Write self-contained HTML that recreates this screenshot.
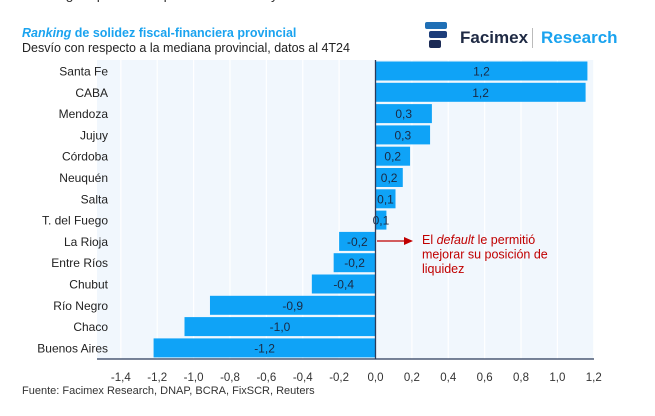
<!DOCTYPE html>
<html><head><meta charset="utf-8"><style>
body{margin:0;width:655px;height:416px;background:#fff;overflow:hidden;font-family:"Liberation Sans",sans-serif;position:relative}
.t{position:absolute;white-space:nowrap}
</style></head><body>
<div class="t" style="left:22px;top:-14px;font-size:14px;color:#333">Ranking de provincias por solidez fiscal y financiera</div>
<div class="t" style="left:22px;top:26px;font-size:12.5px;font-weight:bold;color:#1aa3ef"><i>Ranking</i> de solidez fiscal-financiera provincial</div>
<div class="t" style="left:22px;top:41px;font-size:12.5px;color:#222">Desvío con respecto a la mediana provincial, datos al 4T24</div>
<svg style="position:absolute;left:425px;top:22px" width="30" height="30" viewBox="0 0 30 30">
<rect x="0" y="0" width="22" height="7" rx="2" fill="#1f6fb5"/><rect x="4" y="9" width="18" height="7" rx="2" fill="#1d3d7a"/><rect x="4" y="18" width="12" height="8" rx="2" fill="#1b2a55"/></svg>
<div class="t" style="left:460px;top:28px;font-size:17px;font-weight:bold;color:#1f2a44">Facimex</div>
<div style="position:absolute;left:532px;top:28px;width:1px;height:20px;background:#bbb"></div>
<div class="t" style="left:541px;top:28px;font-size:17px;font-weight:bold;color:#1aa3ef">Research</div>
<svg id="c" width="655" height="416" style="position:absolute;left:0;top:0"></svg>
<div class="t" style="left:22px;top:385px;font-size:11px;color:#333">Fuente: Facimex Research, DNAP, BCRA, FixSCR, Reuters</div>
<script>
const categories=["Santa Fe","CABA","Mendoza","Jujuy","Córdoba","Neuquén","Salta","T. del Fuego","La Rioja","Entre Ríos","Chubut","Río Negro","Chaco","Buenos Aires"];
const values=[1.165,1.155,0.31,0.30,0.19,0.15,0.11,0.06,-0.20,-0.23,-0.35,-0.91,-1.05,-1.22];
const labels=["1,2","1,2","0,3","0,3","0,2","0,2","0,1","0,1","-0,2","-0,2","-0,4","-0,9","-1,0","-1,2"];
const ticks=[-1.4,-1.2,-1,-0.8,-0.6,-0.4,-0.2,0,0.2,0.4,0.6,0.8,1,1.2];
const tickLabels=["-1,4","-1,2","-1,0","-0,8","-0,6","-0,4","-0,2","0,0","0,2","0,4","0,6","0,8","1,0","1,2"];
const NS="http://www.w3.org/2000/svg",svg=document.getElementById('c');
const x=v=>375.5+(v)*181.9;
const y=i=>71+i*21.3;
function mk(t,a,p){const e=document.createElementNS(NS,t);for(const k in a)e.setAttribute(k,a[k]);(p||svg).appendChild(e);return e;}
let bg=mk('rect',{x:97,y:60,width:497,height:299,fill:'#f1f7fd'});


ticks.forEach((t,i)=>{
 let g=mk('line',{x1:x(t),x2:x(t),y1:60,y2:359,stroke:'#fff','stroke-width':1.2});
 
 
 let tl=mk('text',{x:x(t),y:381,'text-anchor':'middle','font-size':11.5,fill:'#333'});tl.textContent=tickLabels[i];
 
 
});
categories.forEach((c,i)=>{
 const v=values[i],x0=Math.min(x(0),x(v)),w=Math.abs(x(v)-x(0));
 let b=mk('rect',{x:x0,y:y(i)-9.5,width:w,height:19,fill:'#0fa3f7'});
 
 
 let l=mk('text',{x:(x(0)+x(v))/2,y:y(i)+4.5,'text-anchor':'middle','font-size':12,fill:'#1a2a44'});l.textContent=labels[i];
 
 
 let cl=mk('text',{x:108,y:y(i)+4.5,'text-anchor':'end','font-size':12,fill:'#222'});cl.textContent=c;
 
 
});
let ax=mk('line',{x1:x(0),x2:x(0),y1:60,y2:359,stroke:'#2a3a5a','stroke-width':1.3});


let bx=mk('line',{x1:97,x2:594,y1:359,y2:359,stroke:'#2a3a5a','stroke-width':1.3});


let ar=mk('line',{x1:377,x2:405,y1:241,y2:241,stroke:'#c00000','stroke-width':1.3});


let ah=mk('polygon',{points:'404,237 413,241 404,245',fill:'#c00000'});


const ann=[["El ","default"," le permitió"],["mejorar su posición de"],["liquidez"]];
ann.forEach((ln,i)=>{
 let t=mk('text',{x:422,y:244+i*14.5,'font-size':12.5,fill:'#c00000'});
 
 
 ln.forEach((s,j)=>{let sp=mk('tspan',{},t);if(j==1)sp.setAttribute('font-style','italic');sp.textContent=s;});
});
</script>
</body></html>
